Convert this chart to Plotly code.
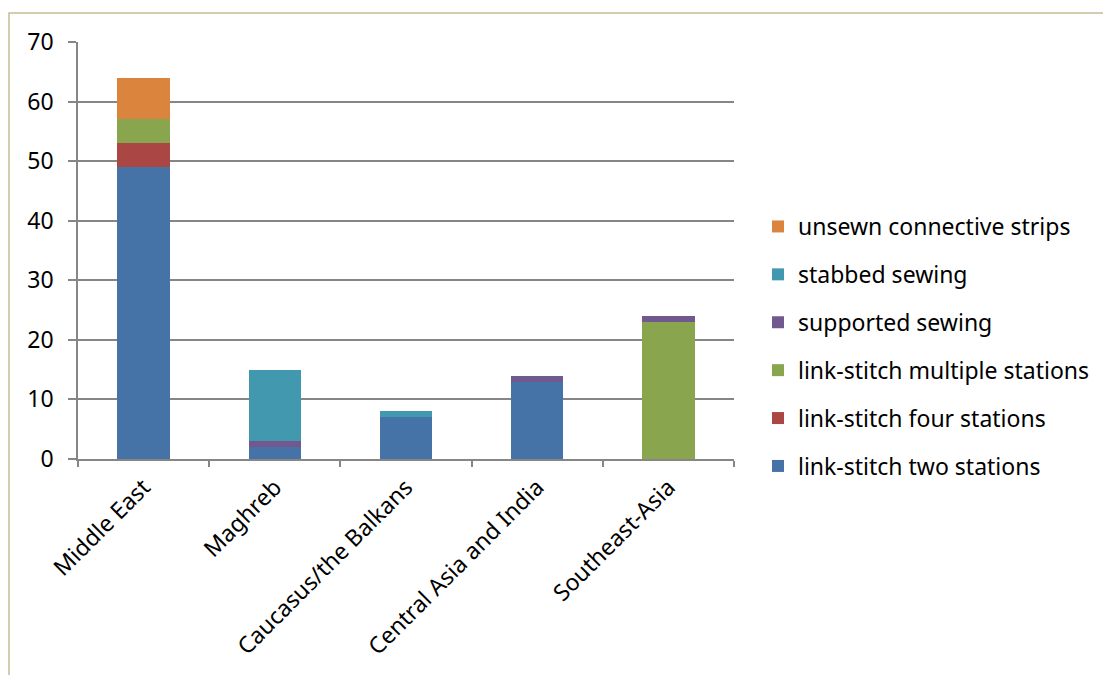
import plotly.graph_objects as go

regions = ["Middle East", "Maghreb", "Caucasus/the Balkans",
           "Central Asia and India", "Southeast-Asia"]

two_stations = [49, 2, 7, 13, 0]
four_stations = [4, 0, 0, 0, 0]
multiple_stations = [4, 0, 0, 0, 23]
supported = [0, 1, 0, 1, 1]
stabbed = [0, 12, 1, 0, 0]
unsewn = [7, 0, 0, 0, 0]

series = [
    ("link-stitch two stations", two_stations, "#4572A7"),
    ("link-stitch four stations", four_stations, "#AA4643"),
    ("link-stitch multiple stations", multiple_stations, "#89A54E"),
    ("supported sewing", supported, "#71588F"),
    ("stabbed sewing", stabbed, "#4198AF"),
    ("unsewn connective strips", unsewn, "#DB843D"),
]

y_ticks = [0, 10, 20, 30, 40, 50, 60, 70]

FONT = "Noto Sans"
FS = 23
W, H = 1103, 675
ML, MR, MT, MB = 78, 369, 42, 216
PW, PH = W - ML - MR, H - MT - MB

fig = go.Figure()
for i, (name, vals, color) in enumerate(series):
    fig.add_trace(go.Bar(
        x=regions, y=vals, name=name, legendgroup=name,
        legendrank=len(series) - i,
        marker=dict(color=color, line=dict(width=0)),
    ))


def px_x(p):
    return (p - ML) / PW


def px_y(p):
    return 1 - (p - MT) / PH


# outer chart-area border
fig.add_shape(type="rect", xref="paper", yref="paper",
              x0=px_x(9), x1=px_x(W + 20), y0=px_y(H + 20), y1=px_y(13),
              line=dict(color="#C4BD97", width=1.5), fillcolor="rgba(0,0,0,0)",
              layer="below")

fig.update_layout(
    width=W, height=H,
    margin=dict(l=ML, r=MR, t=MT, b=MB, autoexpand=False),
    barmode="stack", bargap=0.6,
    plot_bgcolor="white", paper_bgcolor="white",
    font=dict(family=FONT, size=FS, color="black"),
    showlegend=True,
    legend=dict(
        traceorder="grouped", tracegroupgap=15,
        x=px_x(758), xanchor="left", y=px_y(205), yanchor="top",
        font=dict(family=FONT, size=FS, color="black"),
        bgcolor="rgba(0,0,0,0)",
    ),
    xaxis=dict(
        type="category", range=[-0.5, 4.5], tickangle=-45,
        showline=True, linecolor="#868686", linewidth=1.5,
        ticks="outside", tickson="boundaries", ticklen=6,
        tickcolor="#868686", tickwidth=1.5, showgrid=False,
        ticklabelstandoff=4,
        tickfont=dict(family=FONT, size=FS, color="black"),
    ),
    yaxis=dict(
        range=[0, 70], tickvals=y_ticks,
        showline=True, linecolor="#868686", linewidth=1.5,
        ticks="outside", ticklen=8, tickcolor="#868686", tickwidth=1.5,
        showgrid=True, gridcolor="#868686", gridwidth=1.5,
        zeroline=False, ticklabelstandoff=10,
        tickfont=dict(family=FONT, size=FS, color="black"),
    ),
)

fig.write_html("out.html")
